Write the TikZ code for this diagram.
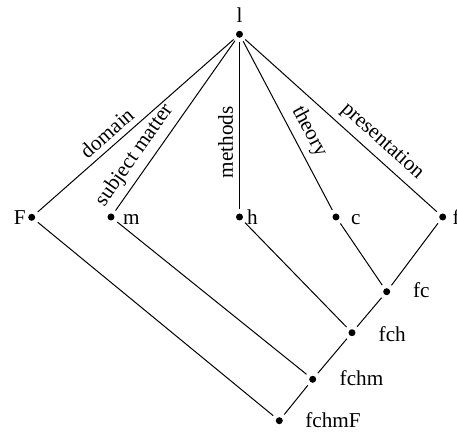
\documentclass[tikz,border=0pt]{standalone}
\usepackage{fontspec}
\setmainfont{Liberation Serif}
\begin{document}
\begin{tikzpicture}[x=0.5pt,y=-0.5pt,
  dot/.style={circle,fill=black,inner sep=0pt,minimum size=3.5pt,outer sep=2.2pt},
  lab/.style={inner sep=0pt,font=\fontsize{10.6}{12}\selectfont},
  elab/.style={sloped,above,inner sep=3pt,font=\fontsize{10.6}{12}\selectfont},
  edge/.style={line width=0.5pt}]
\useasboundingbox (0,0) rectangle (457,437);
% dots
\node[dot] (l) at (239.5,34.3) {};
\node[dot] (F) at (31.7,217.3) {};
\node[dot] (m) at (111,217) {};
\node[dot] (h) at (239.5,217) {};
\node[dot] (c) at (336,217) {};
\node[dot] (f) at (442.7,217) {};
\node[dot] (fc) at (386.7,291.7) {};
\node[dot] (fch) at (352,332.7) {};
\node[dot] (fchm) at (312.7,379.3) {};
\node[dot] (fchmF) at (279.3,420.7) {};
% labels
\node[lab,anchor=base] (ll) at (239.5,22.7) {l};
\node[lab,anchor=base east] (Fl) at (26,225) {F};
\node[lab,anchor=base west] (ml) at (122.7,225) {m};
\node[lab,anchor=base west] (hl) at (246.7,225) {h};
\node[lab,anchor=base west] (cl) at (350.7,225) {c};
\node[lab,anchor=base west] (fl) at (452.3,225) {f};
\node[lab,anchor=base west] (fcl) at (412.7,298) {fc};
\node[lab,anchor=base west] (fchl) at (378.3,341.7) {fch};
\node[lab,anchor=base west] (fchml) at (339.3,386) {fchm};
\node[lab,anchor=base west] (fchmFl) at (305,428) {fchmF};
% edges
\draw[edge] (l) -- node[elab,pos=.60] (e1) {domain} (F);
\draw[edge] (l) -- node[elab,pos=.73] (e2) {subject matter} (m);
\draw[edge] (h) -- node[elab,pos=.40] (e3) {methods} (l);
\draw[edge] (l) -- node[elab,pos=.58] (e4) {theory} (c);
\draw[edge] (l) -- node[elab,pos=.66] (e5) {presentation} (f);
\draw[edge] (F) -- (fchmF);
\draw[edge] (m) -- (fchm);
\draw[edge] (h) -- (fch);
\draw[edge] (c) -- (fc);
\draw[edge] (f) -- (fc);
\draw[edge] (fc) -- (fch);
\draw[edge] (fch) -- (fchm);
\draw[edge] (fchm) -- (fchmF);
\end{tikzpicture}
\end{document}
